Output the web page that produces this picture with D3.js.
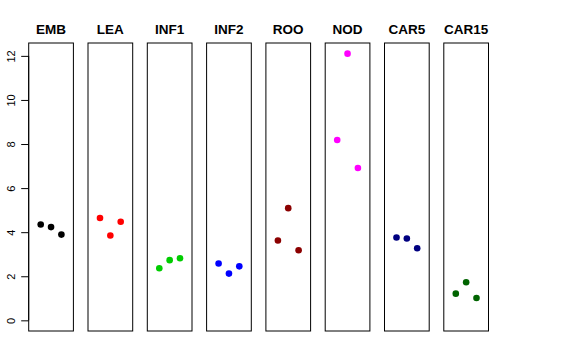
<!DOCTYPE html>
<html>
<head>
<meta charset="utf-8">
<script src="https://cdn.jsdelivr.net/npm/d3@7"></script>
<style>
  body { margin: 0; background: #fff; }
  svg { display: block; font-family: "Liberation Sans", Arial, sans-serif; }
</style>
</head>
<body>
<div id="chart"></div>
<script>
// groups, colours and the three replicate values per group
const groups = ['EMB', 'LEA', 'INF1', 'INF2', 'ROO', 'NOD', 'CAR5', 'CAR15'];
const colors = ['#000000', '#FF0000', '#00CD00', '#0000FF', '#8B0000', '#FF00FF', '#000080', '#006400'];
const values = [
  [4.35, 4.23, 3.89],
  [4.64, 3.85, 4.47],
  [2.36, 2.73, 2.82],
  [2.58, 2.12, 2.45],
  [3.62, 5.09, 3.18],
  [8.18, 12.1, 6.91],
  [3.76, 3.71, 3.27],
  [1.21, 1.73, 1.01]
];
const yTicks = [0, 2, 4, 6, 8, 10, 12];

const width = 576, height = 360;
const panelTop = 43, panelBottom = 331;
const panelLeft = 28.7, panelW = 44.7, panelStep = 59.3;

const svg = d3.select('#chart').append('svg')
  .attr('width', width).attr('height', height);

// R-style ylim c(0, max) with 4% padding
const yMax = d3.max(values.flat());
const pad = yMax * 0.04;
const y = d3.scaleLinear()
  .domain([0 - pad, yMax + pad])
  .range([panelBottom, panelTop]);

// x inside each panel: points at 1,2,3 on xlim c(0,4) padded 4%
const x = d3.scaleLinear()
  .domain([-0.16, 4.16])
  .range([0, panelW]);

groups.forEach((name, i) => {
  const g = svg.append('g')
    .attr('transform', `translate(${panelLeft + i * panelStep},0)`);

  g.append('rect')
    .attr('x', 0).attr('y', panelTop)
    .attr('width', panelW).attr('height', panelBottom - panelTop)
    .attr('fill', 'none')
    .attr('stroke', '#000')
    .attr('stroke-width', 1);

  g.append('text')
    .attr('x', panelW / 2)
    .attr('y', 33.5)
    .attr('text-anchor', 'middle')
    .attr('font-size', 13.5)
    .attr('font-weight', 'bold')
    .text(name);

  g.selectAll('circle')
    .data(values[i])
    .join('circle')
    .attr('cx', (d, j) => x(j + 1))
    .attr('cy', d => y(d))
    .attr('r', 3.3)
    .attr('fill', colors[i]);
});

// y axis on the first panel
const axis = svg.append('g')
  .attr('transform', `translate(${panelLeft},0)`)
  .call(d3.axisLeft(y).tickValues(yTicks).tickSize(7.5).tickPadding(0).tickSizeOuter(0));

axis.select('.domain').remove();
axis.append('line')
  .attr('y1', y(0)).attr('y2', y(12))
  .attr('stroke', '#000');
axis.selectAll('.tick line').attr('stroke', '#000');
axis.selectAll('.tick text')
  .attr('transform', 'rotate(-90)')
  .attr('x', 0)
  .attr('y', -14)
  .attr('dy', 0)
  .attr('text-anchor', 'middle')
  .attr('font-size', 11)
  .attr('font-family', '"Liberation Sans", Arial, sans-serif')
  .attr('fill', '#000');
</script>
</body>
</html>
